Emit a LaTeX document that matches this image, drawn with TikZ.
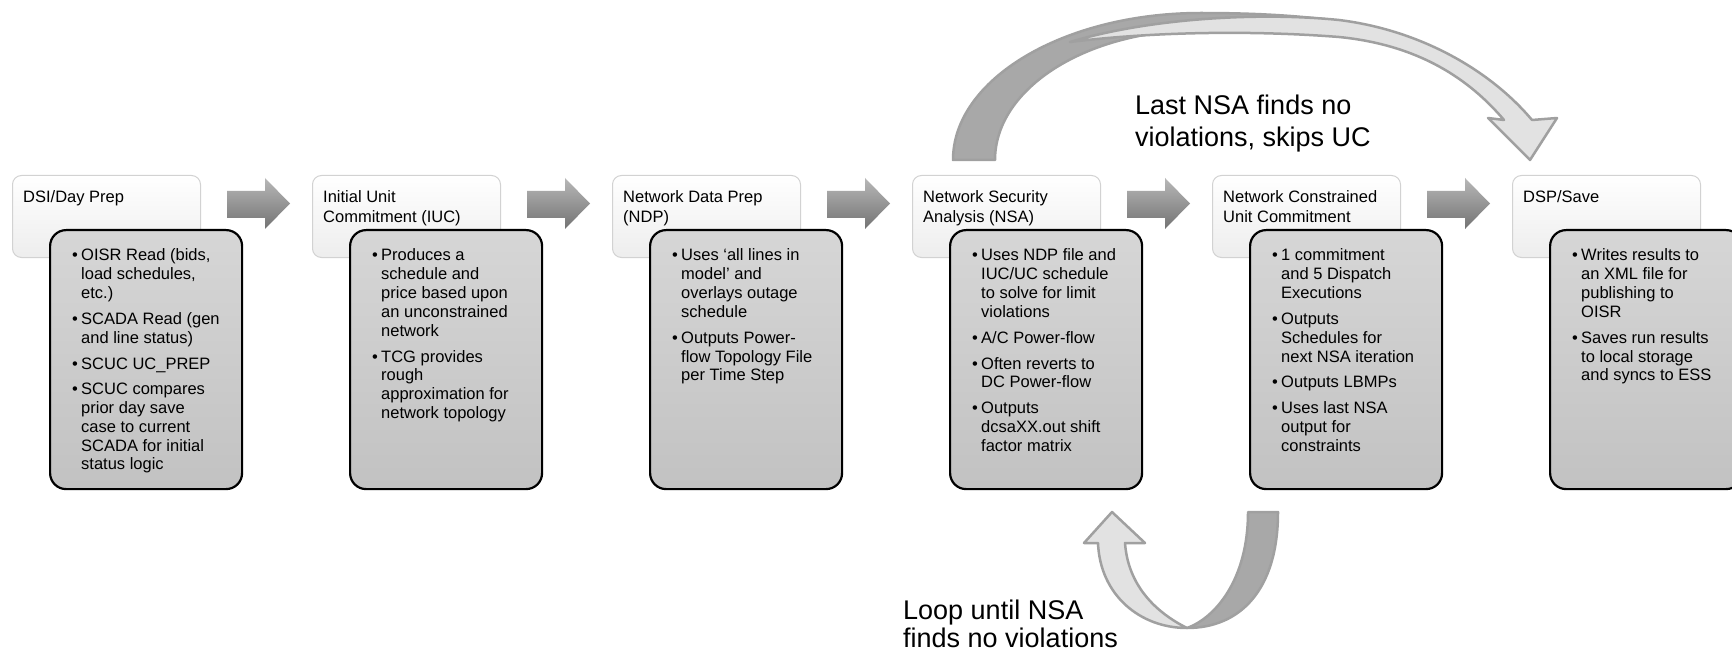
\documentclass[tikz,border=0pt]{standalone}
\usepackage{fontspec}
\setmainfont{Liberation Sans}
\usetikzlibrary{calc}
\definecolor{hdrborder}{HTML}{D2D2D2}
\definecolor{arrdark}{HTML}{A8A8A8}
\definecolor{arrlight}{HTML}{E2E2E2}
\definecolor{arrline}{HTML}{A0A0A0}
\newcommand\bl{\makebox[9pt][l]{\textbullet}}
\newcommand\ind{\hspace*{9pt}}
\newcommand\gp{\\[7pt]}
\newcommand\stage[4]{%
  \node[hdrbox] (h#1) at (#2,175) {};
  \node[detbox] (d#1) at ($(h#1.north west)+(37,54)$) {};
  \node[hdrtext] (t#1) at ($(h#1.north west)+(11,28)$) {\parbox[t]{180pt}{\raggedright #3}};
  \node[dettext] (b#1) at ($(d#1.north west)+(23,32)$) {\parbox[t]{172pt}{\raggedright #4}};
}
\newcommand\stagearrow[1]{%
  \path[blockarrow] ($(h#1.north west)+(215,16)$) coordinate (a#1s)
    -- ++(38,0) -- ++(0,-13) -- ++(25,25.5) -- ++(-25,25.5) -- ++(0,-11) -- ++(-38,0) -- cycle;
}
\begin{document}
\begin{tikzpicture}[x=1pt,y=-1pt,
  hdrbox/.style={draw=hdrborder, line width=1pt, rounded corners=9pt, top color=white, bottom color=black!7,
    minimum width=188pt, minimum height=82pt, anchor=north west, inner sep=0pt},
  detbox/.style={draw=black, line width=2.2pt, rounded corners=16pt, top color=black!16, bottom color=black!24,
    minimum width=192pt, minimum height=259pt, anchor=north west, inner sep=0pt},
  hdrtext/.style={anchor=base west, inner sep=0pt, font=\fontsize{16.5}{20}\selectfont},
  dettext/.style={anchor=base west, inner sep=0pt, font=\fontsize{16.5}{18.8}\selectfont},
  blockarrow/.style={top color=black!28, bottom color=black!55, draw=none},
  biglabel/.style={anchor=base west, inner sep=0pt},
  backpiece/.style={fill=arrdark, draw=arrline, line width=2.5pt, line join=round},
  frontpiece/.style={fill=arrlight, draw=arrline, line width=2.5pt, line join=round}]
\useasboundingbox (0,0) rectangle (1732,655);
\fill[white] (0,0) rectangle (1732,655);

\stage{1}{12}{DSI/Day Prep}{\bl OISR Read (bids,\\\ind load schedules,\\\ind etc.)\gp\bl SCADA Read (gen\\\ind and line status)\gp\bl SCUC UC\_PREP\gp\bl SCUC compares\\\ind prior day save\\\ind case to current\\\ind SCADA for initial\\\ind status logic}
\stage{2}{312}{Initial Unit\\Commitment (IUC)}{\bl Produces a\\\ind schedule and\\\ind price based upon\\\ind an unconstrained\\\ind network\gp\bl TCG provides\\\ind rough\\\ind approximation for\\\ind network topology}
\stage{3}{612}{Network Data Prep\\(NDP)}{\bl Uses ‘all lines in\\\ind model’ and\\\ind overlays outage\\\ind schedule\gp\bl Outputs Power-\\\ind flow Topology File\\\ind per Time Step}
\stage{4}{912}{Network Security\\Analysis (NSA)}{\bl Uses NDP file and\\\ind IUC/UC schedule\\\ind to solve for limit\\\ind violations\gp\bl A/C Power-flow\gp\bl Often reverts to\\\ind DC Power-flow\gp\bl Outputs\\\ind dcsaXX.out shift\\\ind factor matrix}
\stage{5}{1212}{Network Constrained\\Unit Commitment}{\bl 1 commitment\\\ind and 5 Dispatch\\\ind Executions\gp\bl Outputs\\\ind Schedules for\\\ind next NSA iteration\gp\bl Outputs LBMPs\gp\bl Uses last NSA\\\ind output for\\\ind constraints}
\stage{6}{1512}{DSP/Save}{\bl Writes results to\\\ind an XML file for\\\ind publishing to\\\ind OISR\gp\bl Saves run results\\\ind to local storage\\\ind and syncs to ESS}

\stagearrow{1}\stagearrow{2}\stagearrow{3}\stagearrow{4}\stagearrow{5}

% top curved arrow: NSA skips UC to DSP/Save
\path[backpiece] (953,160) .. controls (953,79) and (1064,13) .. (1201,13)
  .. controls (1260,13) and (1300,16) .. (1340,21)
  .. controls (1290,26) and (1245,30) .. (1201,30)
  .. controls (1087,30) and (995,88) .. (995,160) -- cycle;
\path[frontpiece] (1070,42) .. controls (1150,18) and (1260,12) .. (1339,20)
  .. controls (1420,30) and (1490,70) .. (1532,120)
  -- (1557,118) -- (1530,160) -- (1488,118) -- (1504,120)
  .. controls (1470,80) and (1420,45) .. (1339,37)
  .. controls (1250,30) and (1150,32) .. (1070,42) -- cycle;
\node[biglabel, font=\fontsize{27}{32}\selectfont] (lbltop) at (1135,115)
  {\parbox[t]{300pt}{Last NSA finds no\\violations, skips UC}};

% bottom loop arrow: NCUC back to NSA
\path[backpiece] (1248,512) -- (1278,512) .. controls (1278,590) and (1240,628) .. (1187,628)
  .. controls (1215,618) and (1248,580) .. (1248,512) -- cycle;
\path[frontpiece] (1098,543) .. controls (1100,595) and (1140,628) .. (1187,628)
  .. controls (1155,612) and (1128,585) .. (1125,543)
  -- (1145,543) -- (1112,512) -- (1084,543) -- cycle;
\node[biglabel, font=\fontsize{27}{28}\selectfont] (lblbot) at (903,619)
  {\parbox[t]{300pt}{Loop until NSA\\finds no violations}};
\end{tikzpicture}
\end{document}
